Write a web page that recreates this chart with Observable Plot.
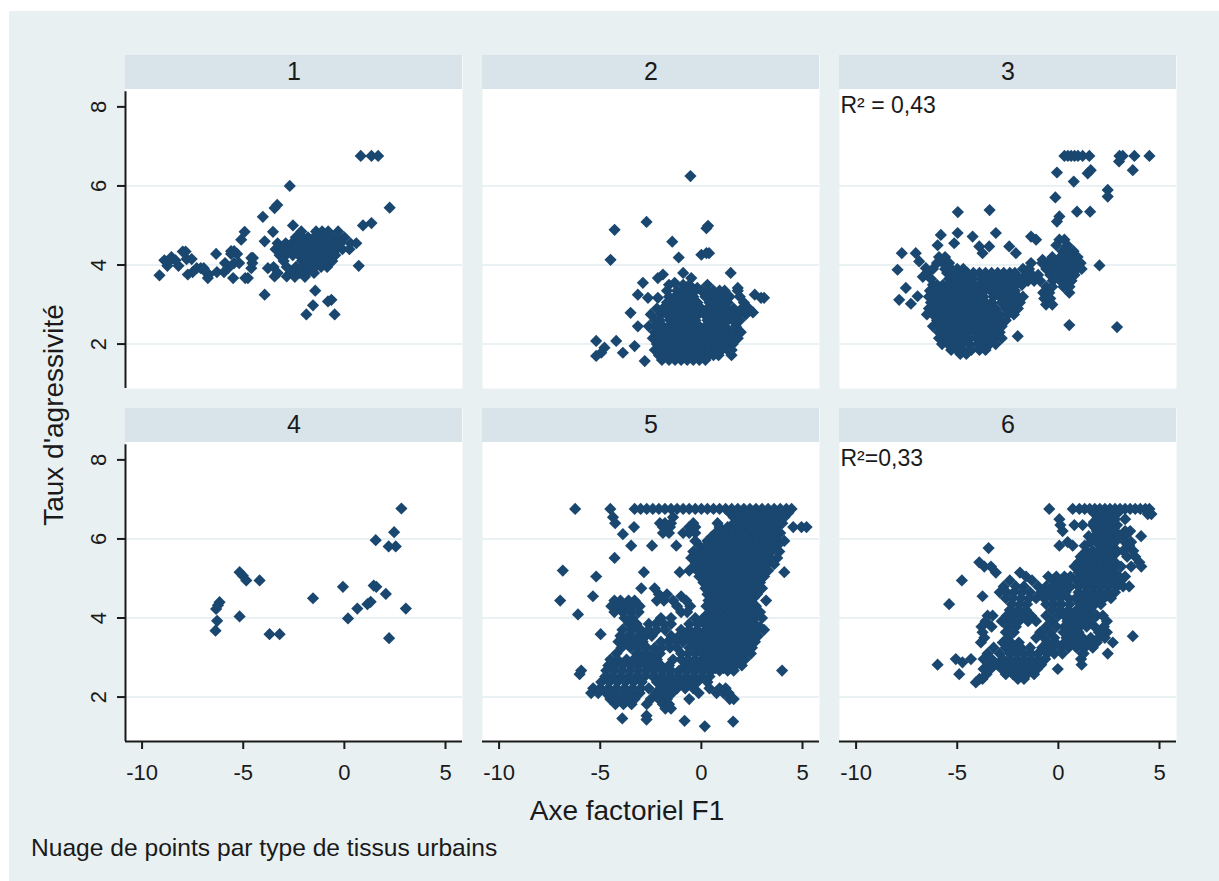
<!DOCTYPE html>
<html>
<head>
<meta charset="utf-8">
<script src="https://cdn.jsdelivr.net/npm/d3@7"></script>
<script src="https://cdn.jsdelivr.net/npm/@observablehq/plot@0.6"></script>
<style>
  html, body { margin: 0; padding: 0; background: #ffffff; overflow: hidden; }
  body { width: 1219px; height: 881px; position: relative; font-family: "Liberation Sans", Arial, sans-serif; color: #1a1a1a; }
  #wrap { position: absolute; left: 9px; top: 11px; width: 1210px; height: 870px; background: #e8f0f2; }
  #chart { position: absolute; left: 0; top: 0; }
  #ytitle { position: absolute; left: -155px; top: 390px; width: 400px; height: 28px; line-height: 28px; font-size: 28px; text-align: center; transform: rotate(-90deg); transform-origin: 200px 14px; white-space: nowrap; }
  #xtitle { position: absolute; left: 318px; top: 786px; width: 600px; line-height: 28px; font-size: 28px; text-align: center; white-space: nowrap; }
  #caption { position: absolute; left: 22px; top: 825px; line-height: 24px; font-size: 24.6px; white-space: nowrap; }
</style>
</head>
<body>
<div id="wrap">
  <div id="chart"></div>
  <div id="ytitle">Taux d'agressivité</div>
  <div id="xtitle">Axe factoriel F1</div>
  <div id="caption">Nuage de points par type de tissus urbains</div>
</div>
<script>
// ---- Panels (facets): label, column, row, annotation ----
const panelLabels = ["1", "2", "3", "4", "5", "6"];
const panelCols = [0, 1, 2, 0, 1, 2];
const panelRows = [0, 0, 0, 1, 1, 1];
const panelNotes = ["", "", "R² = 0,43", "", "", "R²=0,33"];

// ---- Axis ticks ----
const xTicks = [-10, -5, 0, 5];
const yTicks = [2, 4, 6, 8];
const gridTicks = [2, 4, 6];

// ---- Point data: each row = [y (Taux d'agressivité), then x (Axe F1) of points at that level] ----
const panel1 = [
  [3.74, -9.14], [4.12, -8.9, -8.6, -8.35], [3.98, -8.75, -8.2], [4.2, -8.55],
  [4.34, -7.99, -7.85], [4.15, -7.8, -7.55], [3.76, -7.74, -6.7],
  [3.92, -7.3, -7.1, -6.95, -5.75, -4.6], [3.82, -7.5, -6.85, -6.3, -5.95],
  [3.67, -6.75, -5.5, -4.77, -4.9], [4.28, -6.34, -5.6, -5.3], [4.05, -5.9, -5.45, -5.2, -4.55],
  [4.35, -5.6, -5.45], [4.18, -4.52, -4.6], [4.64, -5.1], [4.84, -4.93], [5.22, -4.03],
  [3.25, -3.94], [3.92, -3.78], [4.84, -3.53], [5.52, -3.32], [5.44, -3.45], [6.0, -2.7],
  [5.0, -2.54], [4.6, -3.94], [3.71, -3.45, -2.85],
  [2.75, -1.88, -0.48], [3.35, -1.44], [2.98, -1.55], [3.08, -0.81], [3.12, -0.64], [3.98, 0.71],
  [5.0, 0.92], [5.06, 1.34], [6.76, 0.81, 1.34, 1.67], [5.45, 2.24],
  [4.85, -2.13, -1.4, -1.1, -0.8, -0.31],
  [4.7, -2.4, -2.1, -1.8, -1.5, -1.2, -0.9, -0.6, -0.3, 0.0],
  [4.55, -3.3, -2.9, -2.6, -2.3, -2.0, -1.7, -1.4, -1.1, -0.8, -0.5, -0.2, 0.3, 0.59],
  [4.4, -3.4, -3.1, -2.8, -2.5, -2.2, -1.9, -1.6, -1.3, -1.0, -0.7, -0.4, -0.1, 0.25],
  [4.25, -3.2, -2.9, -2.55, -2.25, -1.95, -1.65, -1.35, -1.05, -0.75, -0.45],
  [4.1, -3.0, -2.1, -1.8, -1.5, -1.2, -0.9, -0.6],
  [3.95, -3.5, -2.85, -2.4, -2.05, -1.75, -1.45, -1.15, -0.85],
  [3.8, -3.3, -2.6, -2.2, -1.85, -1.5],
  [3.7, -2.45, -1.95]
];

const panel2 = [
  [6.25, -0.54], [4.89, -4.29], [5.09, -2.71], [4.99, 0.33], [4.93, 0.25], [4.59, -1.44],
  [4.13, -4.49], [4.19, -1.12], [4.26, 0.0], [4.3, 0.25, 0.38], [3.8, 1.45, -0.9],
  [3.67, -2.15, -0.5], [3.76, -1.9], [3.55, -1.32, -2.89], [3.25, -3.14, 2.64],
  [3.17, -2.64, -2.15, 2.95, 3.1], [2.79, -3.5], [2.08, -5.2, -4.21], [1.91, -4.79],
  [1.78, -3.88, -4.95], [1.95, -3.3], [1.7, -5.2], [1.57, -2.8], [2.45, -3.14],
  [3.42, 1.8, -0.2], [2.8, 2.55],
  [3.5, -1.6, -0.9, -0.6, 0.3],
  [3.35, -1.7, -1.2, -0.9, -0.6, -0.3, 0.0, 0.3, 0.6, 0.9, 1.15, 1.8],
  [3.2, -1.6, -1.3, -1.0, -0.7, -0.4, 0.2, 0.5, 0.8, 1.1, 1.4, 1.9],
  [3.05, -1.7, -1.4, -1.1, -0.8, -0.5, -0.2, 0.4, 0.65, 1.0, 1.3, 2.1],
  [2.9, -2.2, -1.9, -1.55, -1.25, -0.95, -0.6, -0.3, 0.0, 0.3, 0.55, 0.9, 1.2, 1.6, 2.0, 2.35],
  [2.75, -2.5, -2.0, -1.7, -1.4, -1.1, -0.8, -0.45, -0.15, 0.15, 0.4, 0.75, 1.1, 1.4, 1.8, 2.2],
  [2.6, -2.3, -2.05, -1.55, -1.25, -0.9, -0.6, -0.3, 0.3, 0.6, 0.95, 1.3, 1.55, 1.9],
  [2.45, -2.6, -2.25, -1.9, -1.6, -1.3, -1.0, -0.7, -0.4, -0.1, 0.2, 0.5, 0.8, 1.15, 1.7],
  [2.3, -2.3, -2.0, -1.7, -1.4, -1.1, -0.8, -0.5, -0.2, 0.1, 0.4, 0.7, 1.0, 1.4, 1.6, 1.95],
  [2.15, -2.4, -2.1, -1.8, -1.5, -1.2, -0.9, -0.6, -0.3, 0.0, 0.3, 0.6, 0.9, 1.2, 1.5, 1.8],
  [2.0, -2.2, -1.95, -1.65, -1.35, -1.05, -0.75, -0.45, -0.15, 0.15, 0.45, 0.75, 1.05, 1.35, 1.55],
  [1.85, -2.3, -2.0, -1.7, -1.4, -1.1, -0.8, -0.5, -0.2, 0.1, 0.4, 0.7, 1.0, 1.3, 1.5],
  [1.72, -2.1, -1.8, -1.5, -1.2, -0.9, -0.6, -0.3, 0.0, 0.35, 0.6, 0.85, 1.49],
  [1.6, -1.95, -1.6, -1.3, -1.0, -0.7, -0.4, -0.1, 0.2]
];

const panel3 = [
  [6.76, 0.3, 0.47, 0.63, 0.8, 0.97, 1.2, 1.53, 3.02, 3.18, 3.76, 4.5], [6.62, 3.0],
  [6.34, -0.07], [6.32, 1.45], [6.4, 3.68, 1.6], [6.11, 0.76], [5.9, 2.44], [5.73, 2.44],
  [5.71, -0.15], [5.23, 0.05], [5.1, -0.07], [5.35, 0.92, 1.57], [5.34, -4.97], [5.39, -3.4],
  [4.81, -3.09, -4.98], [4.76, -5.81], [4.5, -5.97], [4.55, -5.15], [4.72, -4.24, -1.35],
  [4.47, -3.91, -3.42, -2.43], [4.3, -3.75, -2.1, -7.74, -7.05], [4.64, -1.1],
  [3.88, -7.95], [4.09, -6.88], [3.92, -6.55], [3.42, -7.54], [3.12, -7.87],
  [3.02, -7.29], [3.21, -6.96], [3.7, -6.7], [4.13, -0.78],
  [3.99, 2.03], [2.48, 0.54], [2.43, 2.9], [2.2, -2.01],
  [4.64, 0.05, 0.3], [4.5, -0.1, 0.45], [4.35, 0.2, 0.5, 0.75],
  [4.2, -0.3, 0.1, 0.4, 0.7, 0.95],
  [4.05, -1.35, -0.8, -0.5, -0.1, 0.25, 0.55, 0.85, 1.1],
  [3.9, -1.75, -1.45, -0.6, -0.3, 0.0, 0.3, 0.6, 0.9, 1.15],
  [3.75, -1.6, -1.3, -1.0, -0.4, -0.1, 0.2, 0.5, 0.8],
  [3.6, -1.5, -1.2, -0.9, -0.28, 0.1, 0.4, 0.65],
  [3.45, -0.6, -0.3, 0.25, 0.55],
  [3.3, -0.75, -0.45, 0.54],
  [3.15, -0.7, -0.4],
  [3.0, -0.61, -0.3],
  [4.2, -5.9, -5.6],
  [4.05, -6.0, -5.7, -5.4],
  [3.9, -6.2, -5.6, -5.3, -5.0, -4.7],
  [3.8, -6.5, -5.5, -5.15, -4.85, -4.5, -4.2, -3.9, -3.6, -3.3, -3.0, -2.7, -2.4, -2.15],
  [3.65, -6.3, -5.4, -5.1, -4.8, -4.5, -4.2, -3.7, -3.4, -3.1, -2.8, -2.5, -2.2, -1.9],
  [3.5, -6.2, -6.0, -5.7, -5.4, -5.1, -4.8, -4.5, -4.2, -3.9, -3.6, -3.3, -3.0, -2.7, -2.4, -2.1, -1.8],
  [3.35, -6.35, -6.05, -5.75, -5.45, -5.15, -4.85, -4.55, -4.25, -3.95, -3.65, -3.35, -3.05, -2.75, -2.45, -2.15],
  [3.2, -6.4, -6.1, -5.8, -5.5, -5.2, -4.9, -4.6, -4.3, -4.0, -3.7, -3.2, -2.9, -2.6, -2.3, -2.0, -1.75],
  [3.05, -6.3, -6.0, -5.7, -5.4, -5.1, -4.8, -4.5, -4.2, -3.9, -3.6, -3.3, -2.8, -2.5, -2.2, -1.9],
  [2.9, -6.4, -6.1, -5.8, -5.5, -5.2, -4.9, -4.6, -4.3, -4.0, -3.7, -3.4, -3.1, -2.6, -2.3, -2.0],
  [2.75, -6.5, -6.2, -5.9, -5.6, -5.3, -5.0, -4.7, -4.4, -4.1, -3.8, -3.5, -3.2, -2.9, -2.5, -2.2],
  [2.6, -6.0, -5.7, -5.4, -5.1, -4.8, -4.5, -4.2, -3.9, -3.6, -3.2, -2.9, -2.6],
  [2.45, -6.2, -5.85, -5.5, -5.2, -4.9, -4.6, -4.3, -4.0, -3.7, -3.4, -3.1, -2.8],
  [2.3, -5.9, -5.6, -5.3, -5.0, -4.7, -4.4, -4.1, -3.8, -3.5, -3.2, -2.9],
  [2.15, -5.9, -5.6, -5.3, -5.0, -4.7, -4.4, -4.05, -3.7, -3.4, -3.1, -2.8],
  [2.0, -5.75, -5.45, -5.15, -4.8, -4.4, -4.0, -3.7, -3.4, -3.1],
  [1.85, -5.3, -5.0, -4.7, -4.3, -3.9, -3.6],
  [1.75, -4.85, -4.55]
];

const panel4 = [
  [3.68, -6.37], [3.93, -6.29], [4.23, -6.34], [4.4, -6.17], [4.32, -6.25],
  [5.16, -5.18], [5.07, -5.02], [4.95, -4.85, -4.19], [4.04, -5.18], [3.59, -3.7, -3.2],
  [4.5, -1.55], [4.79, -0.07, 1.58], [3.99, 0.18], [4.24, 0.64, 3.04], [4.35, 1.14],
  [4.41, 1.3], [4.82, 1.45], [4.61, 2.05], [3.49, 2.21], [5.97, 1.55], [5.81, 2.19, 2.54],
  [6.17, 2.46], [6.77, 2.82]
];

const panel5 = [
  [6.76, -6.24, -4.5, -3.3, -3.0, -2.7, -2.4, -2.1, -1.8, -1.5, -1.2, -0.9, -0.6, -0.3, 0.0, 0.3, 0.6, 0.9, 1.2, 1.5, 1.8, 2.1, 2.4, 2.7, 3.0, 3.3, 3.6, 3.9, 4.2, 4.46],
  [6.66, 1.4, 1.75, 2.2, 2.6, 3.0, 3.4, 3.8, 4.3],
  [6.55, -4.37, -1.4, 1.6, 2.0, 2.4, 2.8, 3.2, 3.6, 4.1],
  [6.47, 1.8, 2.2, 2.6, 3.0, 3.4, 3.8],
  [6.4, -4.26, -2.05, -1.8, -1.5, -0.4, 0.8, 1.6, 2.0, 2.4, 2.8, 3.2, 3.6, 4.0],
  [6.3, -3.33, -1.9, -1.55, -0.6, -0.3, 0.9, 1.3, 1.7, 2.1, 2.5, 2.9, 3.3, 3.7, 4.54, 4.95, 5.2],
  [6.22, 1.3, 1.7, 2.1, 2.5, 2.9, 3.3, 3.7],
  [6.15, -1.9, -1.6, -0.9, -0.6, -0.3, 0.7, 1.1, 1.5, 1.9, 2.3, 2.7, 3.1, 3.5, 3.9],
  [6.12, -3.88],
  [6.05, 0.5, 0.85, 1.2, 1.55, 1.9, 2.25, 2.6, 2.95, 3.3, 3.65],
  [5.95, -0.3, 0.3, 0.65, 1.0, 1.35, 1.7, 2.05, 2.4, 2.75, 3.1, 3.45, 3.8, 4.1],
  [5.83, -3.47, -2.44, -1.24, -0.1, 0.25, 0.6, 0.95, 1.3, 1.65, 2.0, 2.35, 2.7, 3.05, 3.4, 3.75],
  [5.76, 0.1, 0.45, 0.8, 1.15, 1.5, 1.85, 2.2, 2.55, 2.9, 3.25, 3.6],
  [5.68, -0.4, -0.05, 0.3, 0.65, 1.0, 1.35, 1.7, 2.05, 2.4, 2.75, 3.1, 3.45, 3.85],
  [5.6, -0.2, 0.15, 0.5, 0.85, 1.2, 1.55, 1.9, 2.25, 2.6, 2.95, 3.3],
  [5.52, -4.29, -0.5, -0.15, 0.2, 0.55, 0.9, 1.25, 1.6, 1.95, 2.3, 2.65, 3.0, 3.35, 3.75],
  [5.44, 0.0, 0.35, 0.7, 1.05, 1.4, 1.75, 2.1, 2.45, 2.8, 3.15, 3.4],
  [5.36, -0.3, 0.05, 0.4, 0.75, 1.1, 1.45, 1.8, 2.15, 2.5, 2.85, 3.2, 3.6],
  [5.28, -0.4, 0.3, 0.65, 1.0, 1.35, 1.7, 2.05, 2.4, 2.75, 3.1],
  [5.2, -6.85, -0.6, -0.2, 0.15, 0.5, 0.85, 1.2, 1.55, 1.9, 2.25, 2.6, 2.95, 3.3],
  [5.16, -2.84, -1.07, 4.1],
  [5.12, 0.1, 0.45, 0.8, 1.15, 1.5, 1.85, 2.2, 2.55, 2.9],
  [5.05, -5.2, -0.1, 0.3, 0.65, 1.0, 1.35, 1.7, 2.05, 2.4, 2.75, 3.1],
  [4.97, 0.3, 0.65, 1.0, 1.35, 1.7, 2.05, 2.4, 2.75],
  [4.9, 0.1, 0.45, 0.8, 1.15, 1.5, 1.85, 2.2, 2.55, 2.9],
  [4.82, 0.35, 0.7, 1.05, 1.4, 1.75, 2.1, 2.45, 2.85],
  [4.75, -2.97, -2.31, 0.2, 0.55, 0.9, 1.25, 1.6, 1.95, 2.3, 2.65, 3.0],
  [4.67, 0.45, 0.8, 1.15, 1.5, 1.85, 2.2, 2.55],
  [4.6, -2.1, -1.7, 0.3, 0.65, 1.0, 1.35, 1.7, 2.05, 2.4, 2.75],
  [4.55, -5.36, -1.0],
  [4.52, 0.5, 0.85, 1.2, 1.55, 1.9, 2.25, 2.6],
  [4.44, -6.98, -4.3, -4.0, -3.6, -3.3, -2.2, -1.85, -1.4, -0.75, 0.35, 0.7, 1.05, 1.4, 1.75, 2.1, 2.45, 3.2],
  [4.37, 0.4, 0.75, 1.1, 1.45, 1.8, 2.15, 2.5],
  [4.3, -4.45, -4.1, -3.75, -3.4, -3.05, -1.2, -0.55, 0.25, 0.6, 0.95, 1.3, 1.65, 2.0, 2.35, 2.7],
  [4.22, 0.55, 0.9, 1.25, 1.6, 1.95, 2.3, 2.7],
  [4.15, -4.3, -3.9, -3.5, -3.1, -1.0, -0.7, 0.4, 0.75, 1.1, 1.45, 1.8, 2.15, 2.5, 2.9],
  [4.09, -6.1],
  [4.07, 0.25, 0.6, 0.95, 1.3, 1.65, 2.0, 2.4, 2.8],
  [4.0, -3.8, -3.4, -2.0, -1.5, -0.3, 0.1, 0.45, 0.8, 1.15, 1.5, 1.85, 2.2, 2.6, 3.0],
  [3.92, 0.0, 0.35, 0.7, 1.05, 1.4, 1.75, 2.1, 2.45],
  [3.85, -3.6, -3.2, -2.6, -2.25, -1.85, -1.5, -0.6, -0.2, 0.15, 0.5, 0.85, 1.2, 1.55, 1.9, 2.25, 2.65],
  [3.77, 0.4, 0.75, 1.1, 1.45, 1.8, 2.15, 2.5, 2.9],
  [3.7, -3.9, -3.4, -3.0, -2.6, -2.2, -1.8, -1.0, -0.6, -0.2, 0.25, 0.6, 0.95, 1.3, 1.65, 2.0, 2.35, 2.7, 3.1],
  [3.62, 0.15, 0.5, 0.85, 1.2, 1.55, 1.9, 2.25, 2.6],
  [3.59, -4.98],
  [3.55, -4.0, -3.6, -3.1, -2.75, -2.45, -1.5, -1.1, -0.75, -0.4, 0.0, 0.35, 0.7, 1.05, 1.4, 1.75, 2.1, 2.45, 2.8],
  [3.47, 0.35, 0.7, 1.05, 1.4, 1.75, 2.1, 2.45],
  [3.4, -4.1, -3.75, -3.35, -2.9, -2.0, -1.65, -1.25, -0.9, -0.5, -0.15, 0.2, 0.55, 0.9, 1.25, 1.6, 1.95, 2.3, 2.65],
  [3.32, -0.4, 0.3, 0.65, 1.0, 1.35, 1.7, 2.05, 2.35],
  [3.25, -3.95, -3.5, -3.1, -2.7, -2.3, -1.95, -1.55, -1.2, -0.6, -0.25, 0.1, 0.45, 0.8, 1.15, 1.5, 1.85, 2.2, 2.5],
  [3.17, 0.2, 0.55, 0.9, 1.25, 1.6, 1.95, 2.3],
  [3.1, -4.2, -3.2, -2.8, -2.4, -2.05, -1.0, -0.65, -0.3, 0.05, 0.4, 0.75, 1.1, 1.45, 1.8, 2.15, 2.45],
  [3.02, 0.2, 0.55, 0.9, 1.25, 1.6, 1.95],
  [2.95, -4.5, -4.15, -3.7, -3.35, -2.95, -2.55, -2.2, -1.4, -1.0, -0.65, -0.3, 0.05, 0.4, 0.75, 1.1, 1.45, 1.8, 2.15],
  [2.87, 0.1, 0.4, 0.8, 1.1, 1.5, 1.85],
  [2.8, -4.6, -4.25, -3.9, -3.5, -3.15, -2.75, -2.4, -2.0, -1.6, -0.8, -0.45, -0.1, 0.25, 0.6, 0.95, 1.3, 1.65, 2.0],
  [2.73, 0.3, 0.7, 1.1, 1.45],
  [2.67, -5.94, -4.7, -4.3, -3.9, -3.5, -3.1, -2.7, -2.3, -1.9, -1.5, -1.1, -0.7, -0.3, 0.1, 0.5, 0.9, 1.3, 1.6, 3.99],
  [2.58, -6.02],
  [2.52, -4.75, -4.4, -4.0, -3.6, -3.2, -2.8, -2.4, -2.0, -1.6, -1.2, -0.8, -0.4, 0.0, 0.4],
  [2.38, -4.95, -4.55, -4.15, -3.75, -3.35, -2.95, -2.2, -1.8, -1.4, -1.0, -0.6, -0.2, 0.3],
  [2.22, -5.35, -5.0, -4.6, -4.2, -3.8, -3.4, -3.0, -2.6, -2.0, -1.6, -1.2, -0.8, -0.4, 0.4, 0.9, 1.2],
  [2.1, -5.45, -5.1, -4.7, -4.3, -3.85, -3.45, -3.05, -2.25, -1.85, -1.45, -0.13, 0.75, 1.1, 1.35],
  [1.95, -4.5, -4.1, -3.7, -3.3, -2.5, -2.1, -1.7, -0.6, 1.4, 1.6],
  [1.82, -4.25, -3.85, -3.45, -2.7, -1.9, -1.6],
  [1.71, -1.78, -1.5], [1.53, -2.71], [1.46, -3.91], [1.43, -2.71], [1.4, -0.83],
  [1.38, 1.57], [1.26, 0.17]
];

const panel6 = [
  [6.76, -0.45, 0.71, 1.04, 1.3, 1.55, 1.8, 2.05, 2.3, 2.55, 2.8, 3.05, 3.3, 3.55, 3.8, 4.05, 4.3, 4.5],
  [6.69, 1.95, 2.3, 2.65, 3.0],
  [6.63, 1.8, 2.15, 2.45, 4.42, 4.6],
  [6.5, 0.05, 1.9, 2.2, 2.5, 2.8, 3.3],
  [6.42, 1.75, 2.05, 2.35, 2.65],
  [6.35, 0.1, 0.79, 1.2, 1.7, 2.0, 2.3, 2.6, 2.9],
  [6.27, 1.85, 2.15, 2.45, 2.75],
  [6.2, 0.21, 1.9, 2.2, 2.5, 2.8, 3.3, 3.55],
  [6.07, 1.5, 1.8, 2.1, 2.4, 2.7, 3.0, 3.3, 4.09],
  [6.0, 1.65, 1.95, 2.25, 2.55, 2.85],
  [5.92, 0.46, 1.6, 1.9, 2.2, 2.5, 2.8, 3.3, 3.6],
  [5.83, 0.05, 0.71, 1.3, 2.05, 2.35, 2.65, 3.5],
  [5.77, -3.45],
  [5.7, 1.4, 1.7, 2.0, 2.3, 2.6, 2.9, 3.2, 3.7],
  [5.62, 1.25, 1.55, 1.9, 2.2, 2.5, 2.8],
  [5.55, 1.1, 1.45, 1.75, 2.05, 2.35, 2.65, 3.4, 3.8],
  [5.47, 1.15, 1.45, 1.75, 2.05, 2.35, 2.65],
  [5.41, -3.91, 1.0, 1.3, 1.6, 1.9, 2.2, 2.5, 2.8, 4.0],
  [5.3, -3.66, -3.33, 0.8, 1.15, 1.45, 1.75, 2.1, 2.4, 2.7, 3.1, 3.6, 4.1],
  [5.22, 1.15, 1.45, 1.75, 2.05, 2.35, 2.65],
  [5.15, -3.09, -1.9, 1.0, 1.3, 1.6, 1.9, 2.2, 2.5, 2.8],
  [5.05, -1.6, -0.5, -0.1, 0.3, 0.6, 1.2, 1.55, 1.9, 2.25, 2.6, 3.0, 3.3],
  [4.95, -4.77, -2.4, -1.3, -0.3, 0.05, 0.45, 0.9, 1.3, 1.65, 2.0, 2.35, 2.7, 3.1],
  [4.87, 1.15, 1.5, 1.85, 2.2, 2.55],
  [4.8, -2.7, -2.1, -1.7, -1.0, -0.6, -0.2, 0.2, 0.6, 1.0, 1.4, 1.75, 2.1, 2.5, 2.9, 3.2, 3.5],
  [4.65, -2.9, -2.55, -2.2, -1.8, -1.4, -0.85, -0.45, -0.05, 0.35, 1.0, 1.35, 1.7, 2.05, 2.4, 2.8],
  [4.57, 1.35, 1.7, 2.05, 2.4],
  [4.55, -3.75],
  [4.5, -2.6, -2.25, -1.85, -1.45, -1.1, -0.7, -0.3, 0.1, 0.5, 0.85, 1.2, 1.55, 1.9, 2.25, 2.6],
  [4.35, -5.4, -2.3, -1.9, -1.55, -0.6, -0.2, 0.15, 0.55, 1.1, 1.45, 1.8, 2.1],
  [4.2, -2.4, -2.0, -1.6, -0.3, 0.1, 0.5, 0.9, 1.3, 1.6],
  [4.06, -3.5, -3.25, -2.55, -2.2, -1.8, -1.35, -0.6, 0.0, 0.3, 0.7, 1.1, 1.4, 1.9, 2.2],
  [3.92, -3.6, -2.8, -2.4, -1.95, -1.5, -1.1, -0.3, 0.45, 0.85, 1.25, 1.6, 2.4],
  [3.78, -3.8, -3.3, -2.5, -2.1, -0.6, -0.1, 0.3, 0.7, 1.05, 1.4, 1.8, 2.25],
  [3.64, -3.75, -2.6, -2.2, -0.9, -0.4, 0.25, 0.6, 1.0, 2.0, 2.4],
  [3.54, 3.68],
  [3.5, -3.66, -2.5, -1.1, -0.7, -0.2, 0.4, 0.8, 1.2, 1.6, 2.0, 2.3],
  [3.38, -3.83, -2.75, -2.35, -1.95, -0.55, -0.15, 0.3, 0.7, 1.1, 1.5, 1.9, 2.69],
  [3.25, -3.2, -2.6, -2.2, -1.85, -1.4, -0.8, -0.4, 0.1, 0.5, 0.9, 1.3, 1.7],
  [3.1, -3.5, -2.9, -2.4, -2.05, -1.7, -1.35, -1.0, -0.55, -0.2, 0.2, 1.2, 1.25, 2.44],
  [2.96, -5.07, -4.32, -3.7, -3.3, -2.75, -2.4, -2.05, -1.7, -1.35, -1.0, -0.65, 1.12],
  [2.88, -4.74],
  [2.82, -5.97, -3.4, -3.0, -2.6, -2.25, -1.9, -1.55, -1.2, -0.85, 1.15],
  [2.71, -3.7, -3.35, -2.8, -2.45, -2.1, -1.75, -1.4, -1.05, -0.03],
  [2.58, -4.9, -3.55, -2.6, -2.25, -1.9, -1.55, -1.2],
  [2.46, -3.75, -3.9, -2.0, -1.7],
  [2.37, -4.08]
];

const panelData = [panel1, panel2, panel3, panel4, panel5, panel6];

// ---- Layout constants (scale domains / header band, not data) ----
const xDomain = [-10.82, 5.84];
const yDomain = [0.876, 9.3];
const headerBottom = 8.44;
const headerMid = 8.87;
const noteY = 8.02;
const yAxisTop = 8.38;

const navy = "#1a476f";
const ink = "#1a1a1a";

// Build tables for Plot from the arrays above
const cells = panelLabels.map((label, i) => ({label, col: panelCols[i], row: panelRows[i], note: panelNotes[i]}));
const points = [];
panelData.forEach((rows, i) => {
  for (const r of rows) {
    for (let k = 1; k < r.length; k++) points.push({x: r[k], y: r[0], col: panelCols[i], row: panelRows[i]});
  }
});
const leftCells = cells.filter(d => d.col === 0);
const bottomCells = cells.filter(d => d.row === 1);

const chart = Plot.plot({
  width: 1210,
  height: 820,
  marginTop: 44,
  marginBottom: 89,
  marginLeft: 116,
  marginRight: 43,
  style: {background: "transparent", fontFamily: "'Liberation Sans', Arial, sans-serif", color: ink, overflow: "visible"},
  fx: {domain: [0, 1, 2], paddingInner: 20 / 357, paddingOuter: 0, axis: null},
  fy: {domain: [0, 1], paddingInner: 20 / 353.5, paddingOuter: 0, axis: null},
  x: {domain: xDomain, label: null},
  y: {domain: yDomain, label: null},
  marks: [
    Plot.frame({fill: "white", stroke: "none"}),
    Plot.rect(cells, {fx: "col", fy: "row", y1: headerBottom, y2: yDomain[1], fill: "#d8e4ea"}),
    Plot.ruleY(gridTicks, {stroke: "#e2ecef", strokeWidth: 1.6}),
    Plot.text(cells, {fx: "col", fy: "row", y: headerMid, text: "label", fontSize: 25, fill: ink, lineAnchor: "middle"}),
    Plot.text(cells.filter(d => d.note), {fx: "col", fy: "row", y: noteY, text: "note", frameAnchor: "left", textAnchor: "start", dx: 1, fontSize: 23, fill: ink, lineAnchor: "middle"}),
    Plot.dot(points, {x: "x", y: "y", fx: "col", fy: "row", symbol: "diamond2", r: 5.5, fill: navy, stroke: "none"}),
    Plot.ruleX(leftCells, {fx: "col", fy: "row", x: xDomain[0], y1: yDomain[0], y2: yAxisTop, stroke: ink, strokeWidth: 2}),
    Plot.ruleY(bottomCells, {fx: "col", fy: "row", y: yDomain[0], stroke: ink, strokeWidth: 2}),
    Plot.axisX({ticks: xTicks, tickFormat: d => String(d), tickSize: 8, tickPadding: 15, fontSize: 22, strokeWidth: 2, stroke: ink, fill: ink, label: null}),
    Plot.axisY({ticks: yTicks, tickFormat: d => String(d), tickSize: 8, tickPadding: 12, tickRotate: -90, fontSize: 22, strokeWidth: 2, stroke: ink, fill: ink, label: null})
  ]
});
document.getElementById("chart").appendChild(chart);
</script>
</body>
</html>
